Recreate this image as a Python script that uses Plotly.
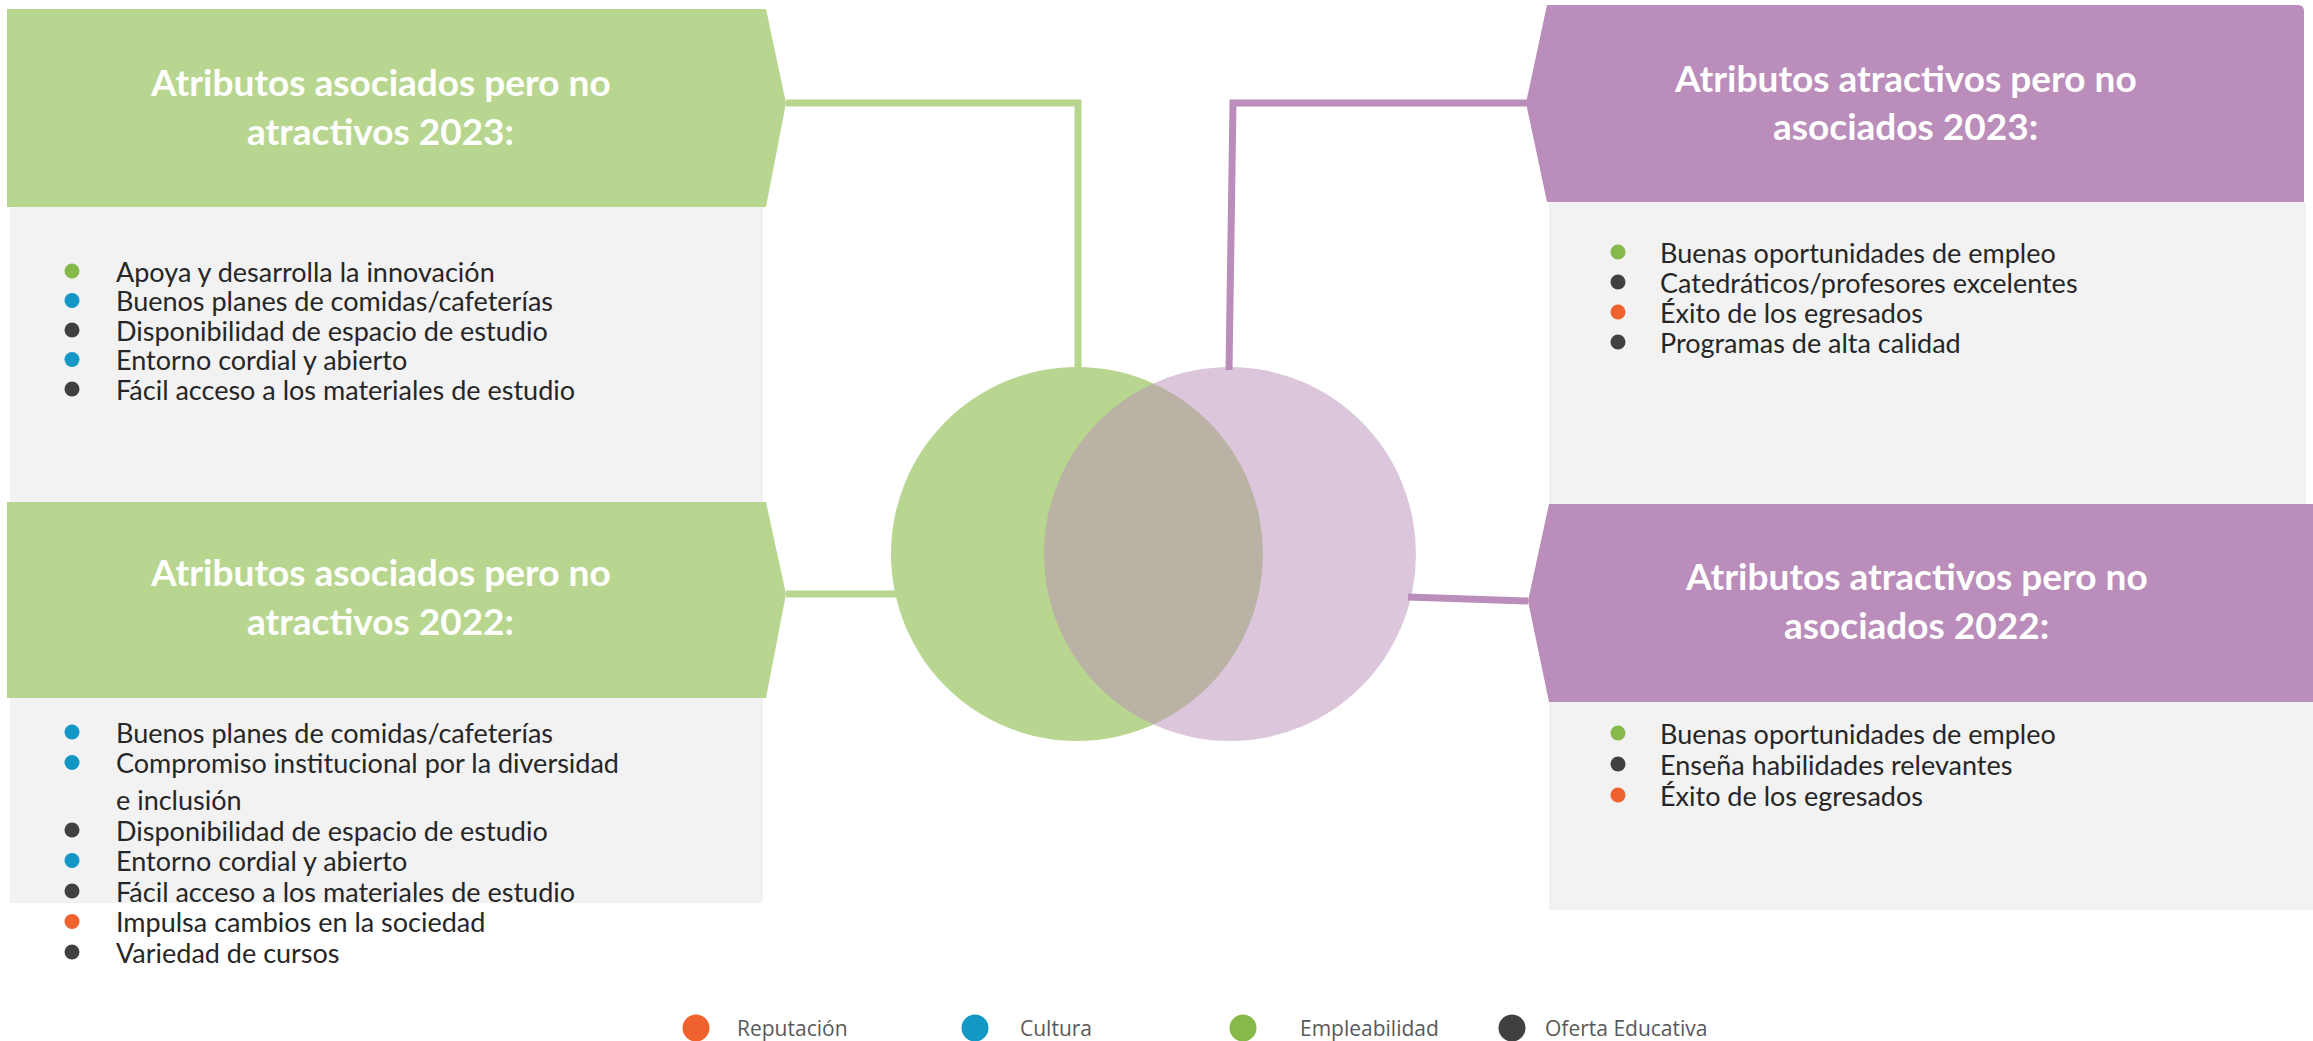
import plotly.graph_objects as go

# ---------------- data ----------------
categories = ["Reputación", "Cultura", "Empleabilidad", "Oferta Educativa"]
category_colors = ["#F0622D", "#1397C4", "#86B94A", "#404040"]

assoc_2023_items = [
    "Apoya y desarrolla la innovación",
    "Buenos planes de comidas/cafeterías",
    "Disponibilidad de espacio de estudio",
    "Entorno cordial y abierto",
    "Fácil acceso a los materiales de estudio",
]
assoc_2023_cats = ["Empleabilidad", "Cultura", "Oferta Educativa", "Cultura", "Oferta Educativa"]

assoc_2022_items = [
    "Buenos planes de comidas/cafeterías",
    "Compromiso institucional por la diversidad<br>e inclusión",
    "Disponibilidad de espacio de estudio",
    "Entorno cordial y abierto",
    "Fácil acceso a los materiales de estudio",
    "Impulsa cambios en la sociedad",
    "Variedad de cursos",
]
assoc_2022_cats = ["Cultura", "Cultura", "Oferta Educativa", "Cultura",
                   "Oferta Educativa", "Reputación", "Oferta Educativa"]

attr_2023_items = [
    "Buenas oportunidades de empleo",
    "Catedráticos/profesores excelentes",
    "Éxito de los egresados",
    "Programas de alta calidad",
]
attr_2023_cats = ["Empleabilidad", "Oferta Educativa", "Reputación", "Oferta Educativa"]

attr_2022_items = [
    "Buenas oportunidades de empleo",
    "Enseña habilidades relevantes",
    "Éxito de los egresados",
]
attr_2022_cats = ["Empleabilidad", "Oferta Educativa", "Reputación"]

titles = [
    ["Atributos asociados pero no", "atractivos 2023:"],
    ["Atributos asociados pero no", "atractivos 2022:"],
    ["Atributos atractivos pero no", "asociados 2023:"],
    ["Atributos atractivos pero no", "asociados 2022:"],
]

# ---------------- styles / layout ----------------
W, H = 2313, 1041
GREEN = "#B8D690"
PURPLE = "#BA8DBA"
GREY = "#F2F2F2"
TEXT = "#262626"
TITLE_FONT = dict(family="Lato", size=37, color="white")
ITEM_FONT = dict(family="Lato", size=27, color=TEXT)
LEG_FONT = dict(family="Open Sans", size=21, color="#595959")
cmap = dict(zip(categories, category_colors))

fig = go.Figure()
shapes = []
ann = []

# grey boxes
for x0, y0, x1, y1 in [(10, 207, 763, 502), (10, 698, 763, 903),
                       (1549, 202, 2306, 504), (1549, 702, 2313, 910)]:
    shapes.append(dict(type="rect", x0=x0, y0=y0, x1=x1, y1=y1,
                       fillcolor=GREY, line=dict(width=0), layer="below"))

# banners
banner_paths = [
    ("M 7,9 L 766,9 L 786,103 L 766,207 L 7,207 Z", GREEN),
    ("M 7,502 L 766,502 L 786,594 L 766,698 L 7,698 Z", GREEN),
    ("M 1547,5 L 2298,5 Q 2304,5 2304,11 L 2304,202 L 1547,202 L 1526,103 Z", PURPLE),
    ("M 1549,504 L 2313,504 L 2313,702 L 1549,702 L 1528,601 Z", PURPLE),
]
for p, c in banner_paths:
    shapes.append(dict(type="path", path=p, fillcolor=c, line=dict(width=0), layer="below"))

# connectors
LW = 7
shapes.append(dict(type="path", path="M 786,103 L 1078,103 L 1078,370",
                   line=dict(color=GREEN, width=LW), layer="below"))
shapes.append(dict(type="line", x0=786, y0=594, x1=897, y1=594,
                   line=dict(color=GREEN, width=LW), layer="below"))
shapes.append(dict(type="path", path="M 1527,103 L 1233,103 L 1229,370",
                   line=dict(color=PURPLE, width=LW), layer="below"))
shapes.append(dict(type="line", x0=1408, y0=597, x1=1528, y1=601,
                   line=dict(color=PURPLE, width=LW), layer="below"))

# circles
shapes.append(dict(type="circle", x0=1077 - 186, x1=1077 + 186, y0=554 - 187, y1=554 + 187,
                   fillcolor=GREEN, line=dict(width=0), layer="below"))
shapes.append(dict(type="circle", x0=1230 - 186, x1=1230 + 186, y0=554 - 187, y1=554 + 187,
                   fillcolor=PURPLE, opacity=0.5, line=dict(width=0), layer="below"))

# titles
title_pos = [(380, 81, 130), (380, 571, 620), (1905, 77, 125), (1916, 575, 624)]
for (l1, l2), (cx, y1, y2) in zip(titles, title_pos):
    for t, yy in ((l1, y1), (l2, y2)):
        ann.append(dict(x=cx, y=yy, text="<b>%s</b>" % t, showarrow=False,
                        xanchor="center", yanchor="middle", font=TITLE_FONT))


def add_list(items, cats, bx, tx, y0, step, wrap_step):
    y = y0
    xs, ys, cs = [], [], []
    for it, cat in zip(items, cats):
        lines = it.split("<br>")
        xs.append(bx)
        ys.append(y)
        cs.append(cmap[cat])
        for k, ln in enumerate(lines):
            ann.append(dict(x=tx, y=y, text=ln, showarrow=False, xanchor="left",
                            yanchor="middle", font=ITEM_FONT))
            y += wrap_step if k < len(lines) - 1 else step
    fig.add_trace(go.Scatter(x=xs, y=ys, mode="markers", hoverinfo="skip",
                             marker=dict(size=15, color=cs, symbol="circle"),
                             showlegend=False))


add_list(assoc_2023_items, assoc_2023_cats, 72, 114, 271, 29.5, 37)
add_list(assoc_2022_items, assoc_2022_cats, 72, 114, 732, 30.5, 37)
add_list(attr_2023_items, attr_2023_cats, 1618, 1658, 252, 30, 37)
add_list(attr_2022_items, attr_2022_cats, 1618, 1658, 733, 31, 37)

# legend
LEG_MX = [696, 975, 1243, 1512]
LEG_TX = [735, 1018, 1298, 1543]
LEG_Y = 1028
fig.add_trace(go.Scatter(x=LEG_MX, y=[LEG_Y] * len(categories), mode="markers",
                         hoverinfo="skip", showlegend=False,
                         marker=dict(size=27, color=category_colors)))
for lab, tx in zip(categories, LEG_TX):
    ann.append(dict(x=tx, y=LEG_Y, text=lab, showarrow=False, xanchor="left",
                    yanchor="middle", font=LEG_FONT))

fig.update_layout(
    width=W, height=H, margin=dict(l=0, r=0, t=0, b=0),
    paper_bgcolor="white", plot_bgcolor="white",
    xaxis=dict(range=[0, W], visible=False, fixedrange=True),
    yaxis=dict(range=[H, 0], visible=False, fixedrange=True),
    shapes=shapes, annotations=ann,
)
fig.write_html(
    "out.html",
    config={"displayModeBar": False},
    post_script="document.body.style.margin='0';document.body.style.overflow='hidden';",
)
